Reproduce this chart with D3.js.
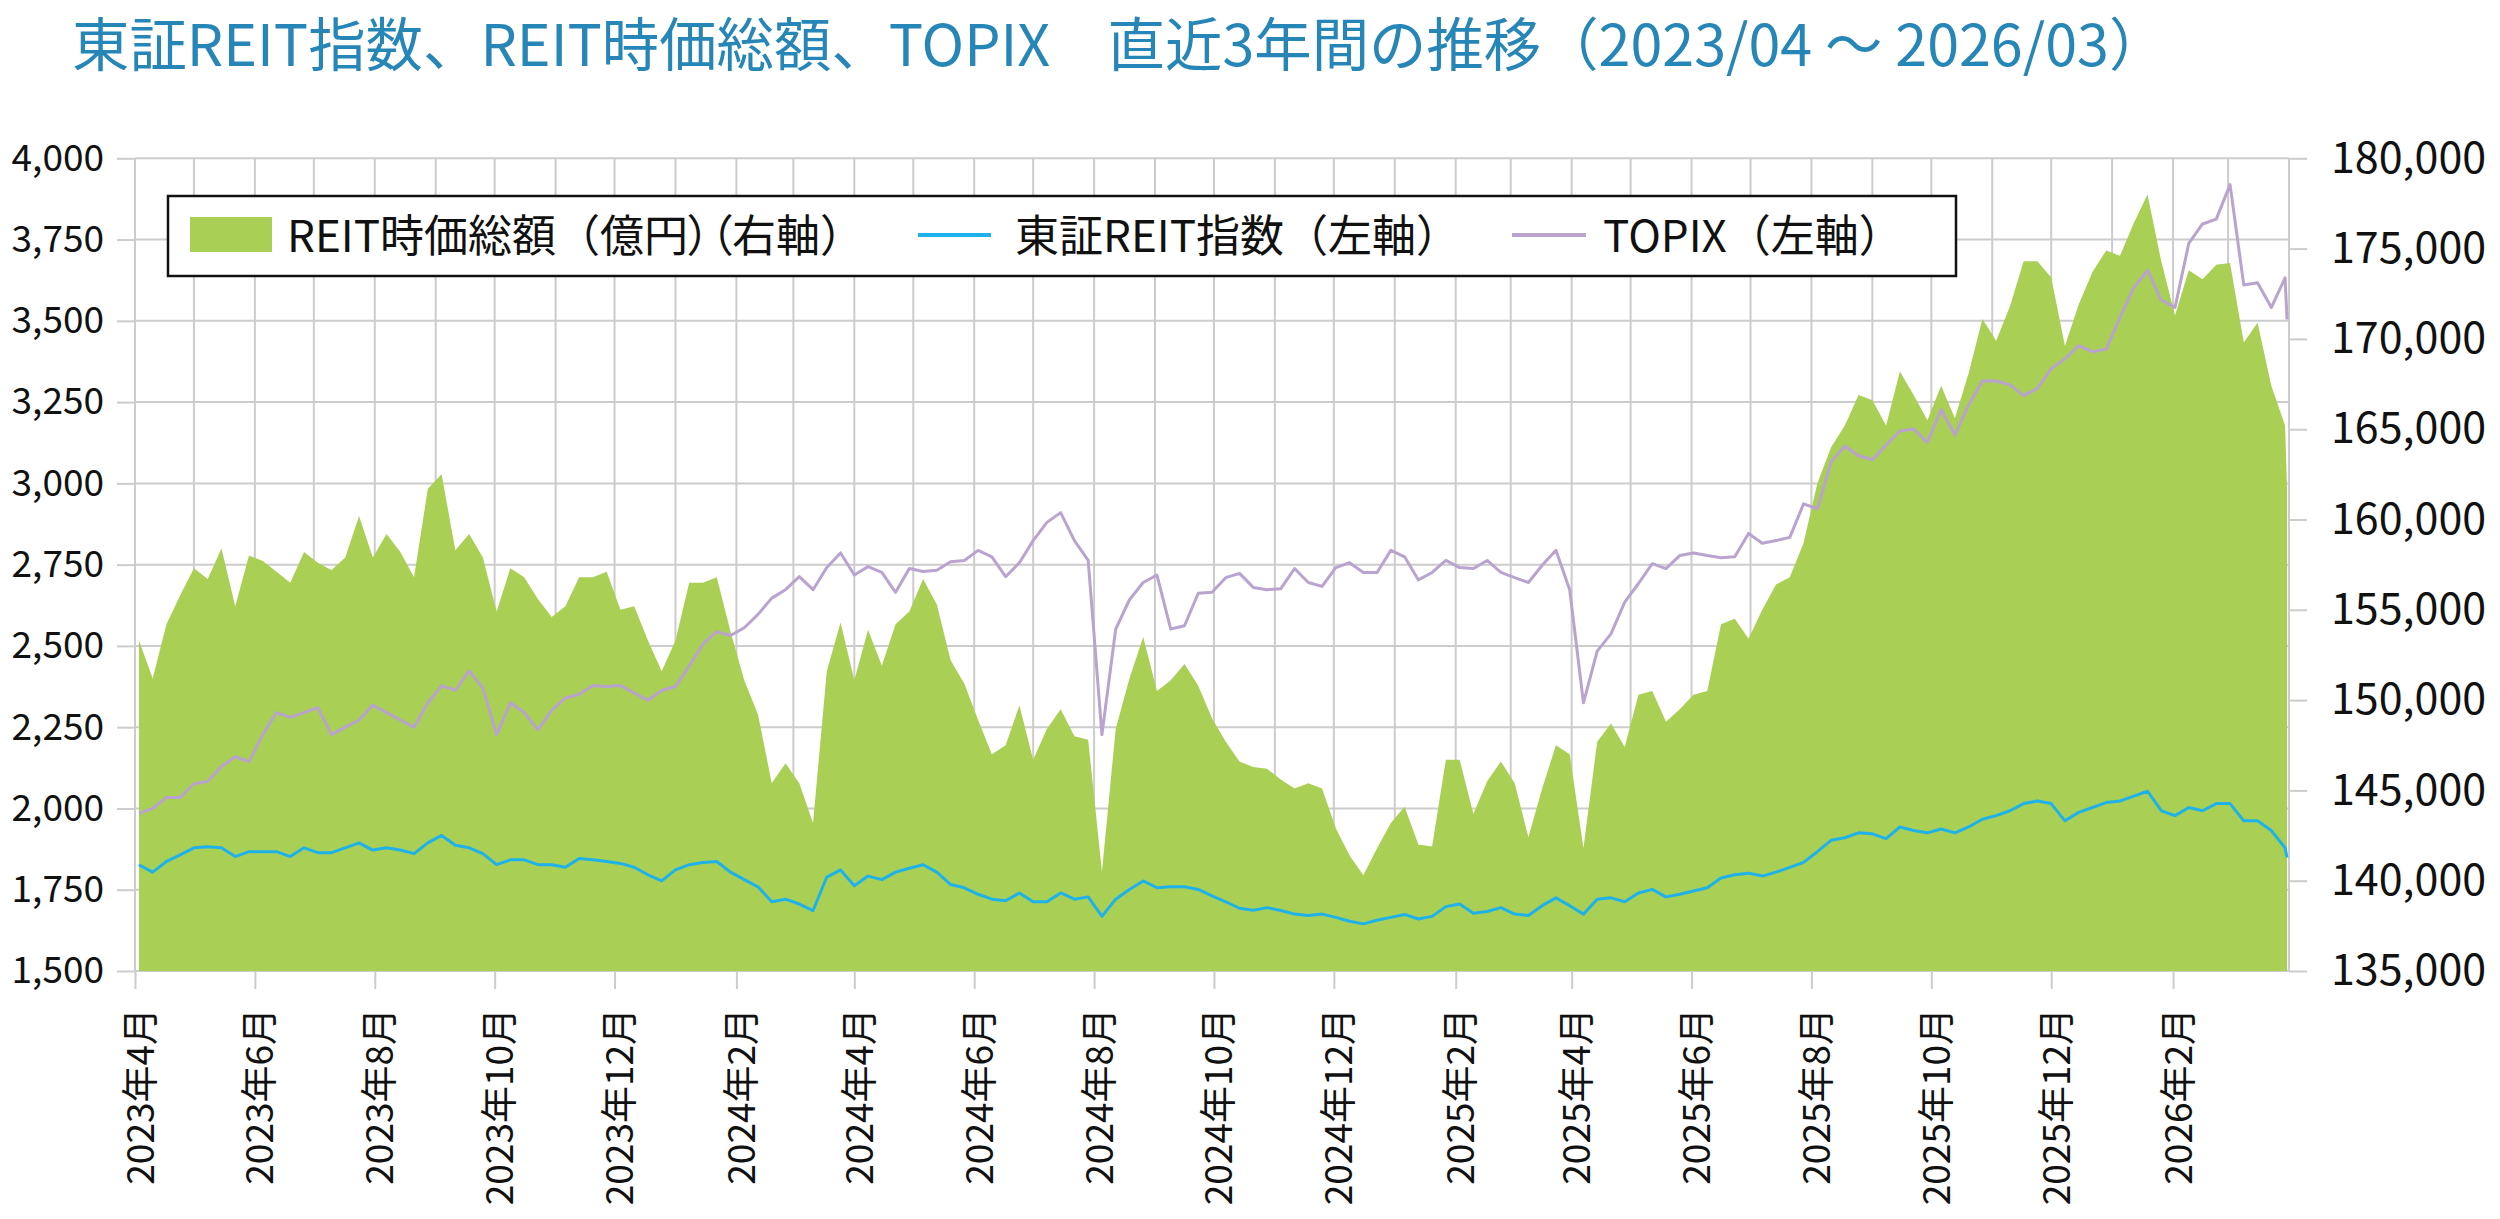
<!DOCTYPE html>
<html>
<head>
<meta charset="utf-8">
<script src="https://cdn.jsdelivr.net/npm/d3@7"></script>
<style>
  body { margin: 0; background: #fff; }
  text { font-family: "Noto Sans CJK JP", "Noto Sans", sans-serif; }
  .palt { font-feature-settings: "palt" 1; }
</style>
</head>
<body>
<svg id="chart" width="2500" height="1219"></svg>
<script>
// weekly observations (Mondays) from 2023-04-03, plus the last trading day
const weekDates = d3.timeMonday.range(new Date(2023, 3, 3), new Date(2026, 2, 31));
weekDates.push(new Date(2026, 2, 31));

// REIT時価総額（億円）
const marketCap = [
  153300, 151200, 154200, 155800, 157300, 156700, 158400, 155200, 158000, 157700,
  157100, 156500, 158200, 157600, 157200, 157900, 160200, 157900, 159200, 158200,
  156800, 161700, 162500, 158300, 159200, 157900, 154900,
  157300, 156800, 155600, 154600, 155200, 156800, 156800, 157100, 155000, 155200,
  153300, 151600, 153300, 156500, 156500, 156800, 153800, 151100, 149200, 145400,
  146500, 145400, 143200, 151600, 154300, 151100,
  153900, 151900, 154200, 154900, 156700, 155300, 152200, 150900, 148900, 147000,
  147500, 149700, 146700, 148400, 149500, 148000, 147800, 140500, 148400, 151200,
  153500, 150500, 151100, 152000, 150800, 149000,
  147700, 146600, 146300, 146200, 145600, 145100, 145400, 145100, 142900, 141400,
  140300, 141800, 143200, 144100, 142000, 141900, 146700, 146700, 143700, 145500,
  146600, 145400, 142400, 145100, 147500, 147000,
  141800, 147700, 148700, 147400, 150300, 150500, 148800, 149500, 150300, 150500,
  154200, 154500, 153400, 155000, 156400, 156800, 158700, 162000, 164000, 165200,
  166900, 166600, 165200, 168200, 166900, 165500,
  167400, 165600, 168100, 171100, 169900, 171800, 174300, 174300, 173400, 169600,
  171900, 173700, 174900, 174600, 176400, 178000, 174300, 171300, 173800, 173300,
  174100, 174200, 169800, 170900, 167400, 165200, 161700
];

// 東証REIT指数
const reitIndex = [
  1827, 1804, 1837, 1857, 1879, 1882, 1879, 1852, 1867, 1867,
  1867, 1852, 1879, 1864, 1864, 1879, 1894, 1872, 1879, 1872,
  1861, 1894, 1917, 1887, 1879, 1861, 1827,
  1842, 1842, 1827, 1827, 1819, 1846, 1842, 1837, 1831, 1819,
  1796, 1777, 1811, 1827, 1834, 1837, 1804, 1781, 1759, 1713,
  1721, 1706, 1686, 1789, 1811, 1762,
  1792, 1781, 1804, 1816, 1827, 1804, 1766, 1756, 1736, 1721,
  1716, 1740, 1713, 1713, 1740, 1721, 1728, 1668, 1721, 1751,
  1777, 1756, 1759, 1759, 1751, 1731,
  1713, 1693, 1687, 1695, 1686, 1675, 1671, 1675, 1665, 1653,
  1645, 1656, 1665, 1674, 1660, 1668, 1698, 1706, 1678, 1683,
  1695, 1675, 1671, 1701, 1725, 1701,
  1675, 1721, 1725, 1713, 1740, 1751, 1728, 1736, 1746, 1756,
  1786, 1796, 1801, 1792, 1804, 1819, 1834, 1867, 1902, 1910,
  1925, 1922, 1907, 1943, 1932, 1925,
  1937, 1925, 1943, 1967, 1978, 1993, 2015, 2023, 2015, 1962,
  1988, 2003, 2018, 2023, 2038, 2053, 1993, 1978, 2003, 1993,
  2015, 2015, 1962, 1962, 1932, 1879, 1849
];

// TOPIX
const topix = [
  1985, 2000, 2034, 2034, 2076, 2083, 2129, 2159, 2144, 2227,
  2295, 2280, 2295, 2310, 2227, 2250, 2272, 2318, 2295, 2272,
  2250, 2325, 2378, 2363, 2423, 2371, 2227,
  2325, 2295, 2242, 2302, 2340, 2351, 2378, 2375, 2378, 2355,
  2333, 2363, 2375, 2438, 2506, 2544, 2532, 2556, 2597, 2647,
  2673, 2713, 2673, 2741, 2786, 2718,
  2744, 2726, 2665, 2738, 2729, 2733, 2759, 2763, 2794, 2774,
  2713, 2756, 2824, 2880, 2910, 2824, 2763, 2227, 2552, 2642,
  2695, 2718, 2552, 2562, 2662, 2665,
  2710, 2723, 2680, 2673, 2676, 2738, 2695, 2683, 2741, 2756,
  2726, 2726, 2794, 2774, 2703, 2726, 2763, 2741, 2738, 2763,
  2726, 2710, 2695, 2748, 2794, 2673,
  2325, 2484, 2537, 2635, 2692, 2753, 2738, 2778, 2786, 2778,
  2771, 2774, 2846, 2816, 2824, 2834, 2937, 2922, 3066, 3115,
  3085, 3073, 3118, 3161, 3167, 3126,
  3227, 3149, 3242, 3315, 3315, 3303, 3270, 3292, 3353, 3383,
  3424, 3405, 3413, 3511, 3602, 3655, 3564, 3541, 3738, 3798,
  3813, 3919, 3610, 3617, 3541, 3632, 3504
];

const leftTicks = [1500, 1750, 2000, 2250, 2500, 2750, 3000, 3250, 3500, 3750, 4000];
const rightTicks = [135000, 140000, 145000, 150000, 155000, 160000, 165000, 170000, 175000, 180000];

const titleText = "東証REIT指数、REIT時価総額、TOPIX　直近3年間の推移（2023/04 ～ 2026/03）";
const legendLabels = {
  cap: ["REIT時価総額（億円", "）（", "右軸）"],
  reit: "東証REIT指数（左軸）",
  topix: "TOPIX（左軸）"
};

const colors = {
  cap: "#a9cf54",
  reit: "#1fb2ea",
  topix: "#b9a3cf",
  grid: "#cccccc",
  title: "#2686b7"
};

const plot = { left: 135, right: 2289, top: 158.3, bottom: 971 };

const svg = d3.select("#chart");

const x = d3.scaleTime()
  .domain([new Date(2023, 3, 1), new Date(2026, 3, 1)])
  .range([plot.left, plot.right]);

const yL = d3.scaleLinear().domain([1500, 4000]).range([plot.bottom, plot.top]);
const yR = d3.scaleLinear().domain([135000, 180000]).range([plot.bottom, plot.top]);

// title
svg.append("text")
  .attr("x", 72)
  .attr("y", 66)
  .attr("fill", colors.title)
  .style("font-size", "57.4px")
  .text(titleText);

// gridlines
const grid = svg.append("g");
grid.selectAll(".hgrid")
  .data(leftTicks)
  .enter()
  .append("line")
  .attr("x1", plot.left)
  .attr("x2", plot.right)
  .attr("y1", d => yL(d))
  .attr("y2", d => yL(d))
  .attr("stroke", colors.grid)
  .attr("stroke-width", 2);

const months = d3.timeMonth.range(new Date(2023, 3, 1), new Date(2026, 3, 2));
grid.selectAll(".vgrid")
  .data(months)
  .enter()
  .append("line")
  .attr("x1", d => x(d))
  .attr("x2", d => x(d))
  .attr("y1", plot.top)
  .attr("y2", plot.bottom)
  .attr("stroke", colors.grid)
  .attr("stroke-width", 2);

// market cap area (right axis)
const rows = weekDates.map((d, i) => ({
  date: d, cap: marketCap[i], reit: reitIndex[i], topix: topix[i]
}));

svg.append("path")
  .datum(rows)
  .attr("fill", colors.cap)
  .attr("d", d3.area()
    .x(d => x(d.date))
    .y0(yR(135000))
    .y1(d => yR(d.cap)));

const line = key => d3.line().x(d => x(d.date)).y(d => yL(d[key]));

svg.append("path")
  .datum(rows)
  .attr("fill", "none")
  .attr("stroke", colors.reit)
  .attr("stroke-width", 3)
  .attr("stroke-linejoin", "round")
  .attr("d", line("reit"));

svg.append("path")
  .datum(rows)
  .attr("fill", "none")
  .attr("stroke", colors.topix)
  .attr("stroke-width", 3)
  .attr("stroke-linejoin", "round")
  .attr("d", line("topix"));

// axes
const styleAxis = g => {
  g.select(".domain").remove();
  g.selectAll(".tick line").attr("stroke", colors.grid).attr("stroke-width", 2);
  g.selectAll(".tick text").attr("fill", "#111").attr("font-family", null);
};

svg.append("g")
  .attr("transform", `translate(${plot.left},0)`)
  .call(d3.axisLeft(yL).tickValues(leftTicks).tickSize(18).tickPadding(13).tickFormat(d3.format(",")))
  .call(styleAxis)
  .selectAll(".tick text")
  .style("font-size", "37px");

svg.append("g")
  .attr("transform", `translate(${plot.right},0)`)
  .call(d3.axisRight(yR).tickValues(rightTicks).tickSize(18).tickPadding(24).tickFormat(d3.format(",")))
  .call(styleAxis)
  .selectAll(".tick text")
  .style("font-size", "43px");

const labelMonths = d3.timeMonth.range(new Date(2023, 3, 1), new Date(2026, 2, 2))
  .filter((d, i) => i % 2 === 0);

const xAxis = svg.append("g")
  .attr("transform", `translate(0,${plot.bottom})`)
  .call(d3.axisBottom(x).tickValues(labelMonths).tickSize(18)
    .tickFormat(d => `${d.getFullYear()}年${d.getMonth() + 1}月`))
  .call(styleAxis);

xAxis.selectAll(".tick text")
  .style("font-size", "37px")
  .attr("text-anchor", "end")
  .attr("dy", null)
  .attr("y", 0)
  .attr("transform", "translate(18,37) rotate(-90)");

// legend
const legend = svg.append("g");
legend.append("rect")
  .attr("x", 168).attr("y", 196)
  .attr("width", 1788).attr("height", 80)
  .attr("fill", "#fff")
  .attr("stroke", "#111")
  .attr("stroke-width", 2.5);

legend.append("rect")
  .attr("x", 190).attr("y", 217)
  .attr("width", 82).attr("height", 35)
  .attr("fill", colors.cap);

const capText = legend.append("text")
  .attr("x", 287).attr("y", 252)
  .style("font-size", "44px")
  .attr("fill", "#111");
capText.append("tspan").text(legendLabels.cap[0]);
capText.append("tspan").attr("class", "palt").text(legendLabels.cap[1]);
capText.append("tspan").text(legendLabels.cap[2]);

legend.append("line")
  .attr("x1", 918).attr("x2", 991)
  .attr("y1", 235).attr("y2", 235)
  .attr("stroke", colors.reit)
  .attr("stroke-width", 4);

legend.append("text")
  .attr("x", 1015).attr("y", 252)
  .style("font-size", "44px")
  .attr("fill", "#111")
  .text(legendLabels.reit);

legend.append("line")
  .attr("x1", 1512).attr("x2", 1586)
  .attr("y1", 235).attr("y2", 235)
  .attr("stroke", colors.topix)
  .attr("stroke-width", 4);

legend.append("text")
  .attr("x", 1603).attr("y", 252)
  .style("font-size", "44px")
  .attr("fill", "#111")
  .text(legendLabels.topix);
</script>
</body>
</html>
